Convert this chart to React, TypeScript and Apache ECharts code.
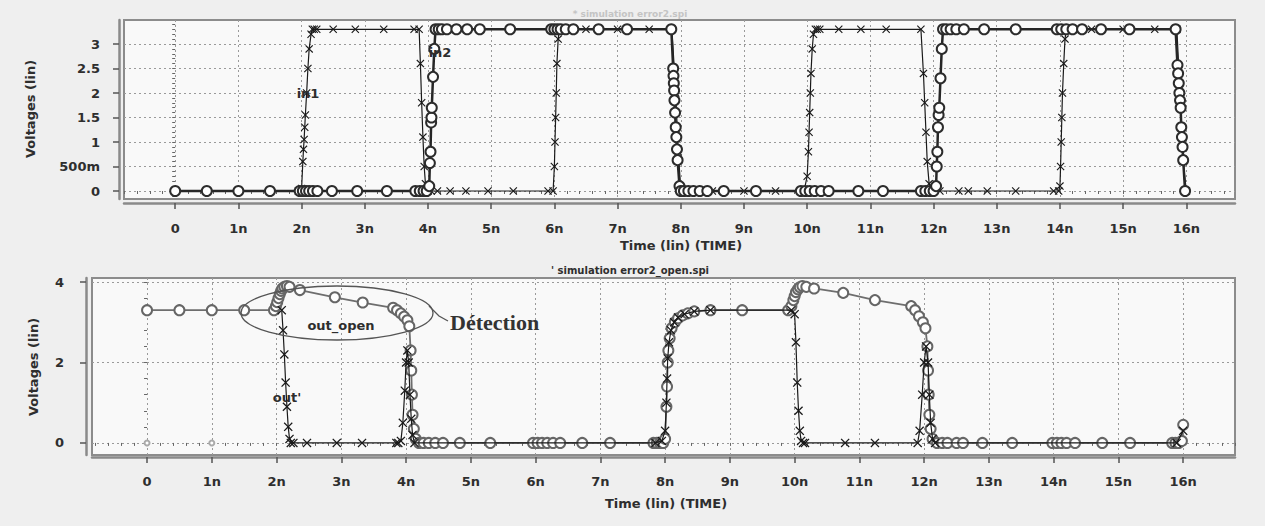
import React, { useEffect, useRef } from 'react';
import * as echarts from 'echarts';

// ---------- tick values ----------
const timeTicks = [0, 1, 2, 3, 4, 5, 6, 7, 8, 9, 10, 11, 12, 13, 14, 15, 16];
const topVoltTicks = [0, 0.5, 1, 1.5, 2, 2.5, 3];
const botVoltTicks = [0, 2, 4];

// ---------- top panel signals (time in ns, volts) ----------
const in1Top: [number, number][] = [
  [0, 0], [0.5, 0], [1, 0], [1.5, 0], [1.95, 0], [2.0, 0.05], [2.02, 0.6], [2.03, 0.85], [2.04, 1.05], [2.05, 1.3],
  [2.06, 1.55], [2.08, 2.0], [2.1, 2.5], [2.12, 2.9], [2.15, 3.2], [2.17, 3.3], [2.2, 3.3], [2.24, 3.3], [2.5, 3.3],
  [2.85, 3.3], [3.3, 3.3], [3.78, 3.3], [3.86, 3.3], [3.88, 2.6], [3.9, 1.8], [3.92, 1.1], [3.94, 0.5], [3.96, 0.15],
  [4.0, 0], [4.05, 0], [4.15, 0], [4.35, 0], [4.6, 0], [4.95, 0], [5.35, 0], [5.9, 0], [5.98, 0], [6.0, 0.5],
  [6.01, 1.0], [6.02, 1.5], [6.03, 2.0], [6.04, 2.6], [6.06, 3.1], [6.08, 3.3], [6.5, 3.3], [7.0, 3.3], [7.5, 3.3],
  [7.86, 3.3], [7.92, 2.0], [7.96, 0.8], [8.0, 0.05], [8.05, 0], [8.5, 0], [9.0, 0], [9.5, 0], [9.95, 0], [10.0, 0.3],
  [10.02, 0.8], [10.03, 1.2], [10.04, 1.6], [10.05, 2.0], [10.06, 2.4], [10.08, 2.9], [10.1, 3.2], [10.13, 3.3],
  [10.16, 3.3], [10.2, 3.3], [10.5, 3.3], [10.85, 3.3], [11.25, 3.3], [11.8, 3.3], [11.84, 2.4], [11.86, 1.8],
  [11.88, 1.2], [11.9, 0.6], [11.93, 0.15], [11.97, 0], [12.1, 0], [12.4, 0], [12.55, 0], [12.85, 0], [13.3, 0],
  [13.9, 0], [13.98, 0], [14.0, 0.1], [14.01, 0.5], [14.02, 1.0], [14.03, 1.5], [14.04, 2.0], [14.06, 2.6],
  [14.08, 3.1], [14.1, 3.3], [14.5, 3.3], [15.0, 3.3], [15.5, 3.3], [15.85, 3.3], [15.9, 2.0], [15.95, 0.6], [16.0, 0],
];

const in2Top: [number, number][] = [
  [0, 0], [0.5, 0], [1, 0], [1.5, 0], [1.97, 0], [2.02, 0], [2.07, 0], [2.12, 0], [2.18, 0], [2.25, 0], [2.48, 0],
  [2.88, 0], [3.35, 0], [3.8, 0], [3.87, 0], [3.93, 0], [3.98, 0], [4.02, 0.1], [4.03, 0.57], [4.04, 0.8], [4.05, 1.4],
  [4.055, 1.5], [4.06, 1.7], [4.08, 2.33], [4.1, 2.9], [4.12, 3.3], [4.17, 3.3], [4.22, 3.3], [4.3, 3.3], [4.45, 3.3],
  [4.62, 3.3], [4.82, 3.3], [5.3, 3.3], [5.95, 3.3], [6.0, 3.3], [6.05, 3.3], [6.1, 3.3], [6.18, 3.3], [6.3, 3.3],
  [6.7, 3.3], [7.15, 3.3], [7.85, 3.3], [7.88, 2.5], [7.885, 2.35], [7.89, 2.2], [7.895, 2.05], [7.9, 1.85],
  [7.91, 1.6], [7.92, 1.3], [7.93, 1.1], [7.94, 0.85], [7.95, 0.63], [7.98, 0.1], [8.0, 0], [8.05, 0], [8.12, 0],
  [8.2, 0], [8.3, 0], [8.42, 0], [8.68, 0], [9.19, 0], [9.9, 0], [9.97, 0], [10.04, 0], [10.12, 0], [10.22, 0],
  [10.34, 0], [10.81, 0], [11.2, 0], [11.8, 0], [11.87, 0], [11.94, 0], [12.0, 0], [12.04, 0.1], [12.05, 0.5],
  [12.06, 0.8], [12.07, 1.3], [12.08, 1.55], [12.09, 1.7], [12.11, 2.3], [12.13, 2.9], [12.15, 3.3], [12.2, 3.3],
  [12.27, 3.3], [12.36, 3.3], [12.48, 3.3], [12.8, 3.3], [13.3, 3.3], [13.95, 3.3], [14.02, 3.3], [14.1, 3.3],
  [14.2, 3.3], [14.35, 3.3], [14.65, 3.3], [15.1, 3.3], [15.83, 3.3], [15.86, 2.57], [15.87, 2.4], [15.88, 2.2],
  [15.89, 2.0], [15.9, 1.85], [15.91, 1.7], [15.92, 1.3], [15.93, 1.1], [15.94, 0.9], [15.95, 0.63], [15.98, 0],
];

// ---------- bottom panel signals ----------
const outOpenBot: [number, number][] = [
  [0, 3.3], [0.5, 3.3], [1, 3.3], [1.5, 3.3], [1.96, 3.3], [1.99, 3.4], [2.01, 3.5], [2.03, 3.6], [2.05, 3.7],
  [2.07, 3.78], [2.09, 3.84], [2.12, 3.88], [2.16, 3.9], [2.2, 3.88], [2.36, 3.8], [2.9, 3.62], [3.33, 3.49],
  [3.8, 3.36], [3.86, 3.3], [3.92, 3.22], [3.97, 3.14], [4.02, 3.05], [4.05, 2.9], [4.07, 2.3], [4.08, 1.8],
  [4.09, 1.2], [4.1, 0.7], [4.12, 0.35], [4.15, 0.1], [4.2, 0], [4.27, 0], [4.35, 0], [4.45, 0], [4.57, 0],
  [4.83, 0], [5.3, 0], [5.96, 0], [6.03, 0], [6.1, 0], [6.18, 0], [6.27, 0], [6.38, 0], [6.72, 0], [7.15, 0],
  [7.82, 0], [7.87, 0], [7.92, 0], [7.97, 0], [8.0, 0.1], [8.02, 0.9], [8.03, 1.4], [8.04, 2.0], [8.05, 2.3],
  [8.07, 2.6], [8.1, 2.85], [8.15, 3.0], [8.2, 3.1], [8.27, 3.17], [8.35, 3.22], [8.45, 3.27], [8.7, 3.3],
  [9.19, 3.3], [9.9, 3.3], [9.95, 3.4], [9.98, 3.55], [10.0, 3.65], [10.02, 3.75], [10.05, 3.82], [10.08, 3.87],
  [10.12, 3.9], [10.18, 3.88], [10.3, 3.84], [10.75, 3.73], [11.24, 3.55], [11.8, 3.4], [11.86, 3.3], [11.92, 3.15],
  [11.98, 3.0], [12.02, 2.85], [12.05, 2.4], [12.06, 1.8], [12.07, 1.2], [12.08, 0.7], [12.1, 0.35], [12.13, 0.1],
  [12.2, 0], [12.28, 0], [12.36, 0], [12.5, 0], [12.6, 0], [12.9, 0], [13.36, 0], [13.98, 0], [14.05, 0], [14.12, 0],
  [14.2, 0], [14.33, 0], [14.75, 0], [15.18, 0], [15.83, 0], [15.88, 0], [15.93, 0], [15.98, 0.05], [16.0, 0.45],
];

const outBot: [number, number][] = [
  [2.08, 3.3], [2.1, 2.8], [2.12, 2.2], [2.14, 1.5], [2.16, 0.9], [2.18, 0.4], [2.2, 0.1], [2.22, 0], [2.26, 0],
  [2.47, 0], [2.93, 0], [3.32, 0], [3.85, 0], [3.88, 0], [3.92, 0.05], [3.95, 0.5], [3.98, 1.3], [4.0, 2.0],
  [4.02, 2.3], [4.04, 2.0], [4.06, 1.2], [4.08, 0.6], [4.1, 0.2], [4.13, 0], [7.85, 0], [7.95, 0.05], [8.0, 0.3],
  [8.02, 1.0], [8.03, 1.6], [8.04, 2.1], [8.06, 2.5], [8.09, 2.8], [8.14, 3.0], [8.2, 3.12], [8.3, 3.2], [8.45, 3.27],
  [8.7, 3.3], [9.95, 3.3], [10.0, 3.2], [10.02, 2.5], [10.04, 1.5], [10.06, 0.8], [10.08, 0.3], [10.1, 0.05],
  [10.13, 0], [10.16, 0], [10.78, 0], [11.24, 0], [11.9, 0], [11.93, 0.3], [11.97, 1.2], [12.0, 2.0], [12.03, 2.4],
  [12.06, 2.0], [12.08, 1.2], [12.1, 0.5], [12.13, 0.1], [12.17, 0], [15.9, 0], [16.0, 0.3],
];

const faintBot: [number, number][] = [[0, 0], [1, 0]];

// ---------- helpers ----------
const timeLabel = (v: number) => (v === 0 ? '0' : `${v}n`);
const topVoltLabel = (v: number) => (v === 0 ? '0' : v === 0.5 ? '500m' : String(v));
function steps(a: number, b: number, s: number): number[] {
  const r: number[] = [];
  for (let i = Math.round(a / s); i * s <= b + 1e-9; i++) r.push(+(i * s).toFixed(4));
  return r;
}
const X_PATH = 'path://M0,1L1,0L5,4L9,0L10,1L6,5L10,9L9,10L5,6L1,10L0,9L4,5Z';
const FONT = 'DejaVu Sans';
const TXT = '#2e2e2e';

export default function App() {
  const ref = useRef<HTMLDivElement>(null);
  useEffect(() => {
    if (!ref.current) return;
    const chart = echarts.init(ref.current, undefined, { renderer: 'svg' });

    const labelStyle = { fontFamily: FONT, fontWeight: 'bold' as const, fontSize: 13, color: TXT };
    const gridLine = { show: true, lineStyle: { color: '#9a9a9a', type: [2, 3] as number[], width: 1 } };

    const xMain = (grid: number, min: number, max: number, offset: number, margin: number) => ({
      type: 'value', gridIndex: grid, min, max, position: 'bottom', offset,
      axisLine: { show: true, onZero: false, lineStyle: { color: '#8a8a8a', width: 2.5 } },
      axisTick: { show: true, customValues: timeTicks, length: 6, lineStyle: { color: '#555', width: 1.5 } },
      axisLabel: { show: true, customValues: timeTicks, formatter: timeLabel, margin, ...labelStyle },
      splitLine: gridLine,
    });
    const xMinor = (grid: number, min: number, max: number, offset: number) => ({
      type: 'value', gridIndex: grid, min, max, position: 'bottom', offset,
      axisLine: { show: false },
      axisTick: { show: true, customValues: steps(-0.8, 16.8, 0.2), length: 3, lineStyle: { color: '#666', width: 1 } },
      axisLabel: { show: false }, splitLine: { show: false },
    });
    const yMain = (grid: number, min: number, max: number, ticks: number[], fmt: (v: number) => string, offset: number, margin: number) => ({
      type: 'value', gridIndex: grid, min, max, position: 'left', offset,
      axisLine: { show: true, onZero: false, lineStyle: { color: '#8a8a8a', width: 2.5 } },
      axisTick: { show: true, customValues: ticks, length: 6, lineStyle: { color: '#555', width: 1.5 } },
      axisLabel: { show: true, customValues: ticks, formatter: fmt, margin, ...labelStyle },
      splitLine: gridLine,
    });
    const yMinor = (grid: number, min: number, max: number, ticks: number[], offset: number) => ({
      type: 'value', gridIndex: grid, min, max, position: 'left', offset,
      axisLine: { show: false },
      axisTick: { show: true, customValues: ticks, length: 3, lineStyle: { color: '#666', width: 1 } },
      axisLabel: { show: false }, splitLine: { show: false },
    });

    const text = (x: number, y: number, t: string, extra: any = {}) => ({
      type: 'text', x, y, z: 100,
      style: { text: t, fill: TXT, font: `bold 13px "${FONT}"`, textAlign: 'center', textVerticalAlign: 'middle', ...extra },
    });
    const vtext = (x: number, y: number, t: string) => ({
      type: 'text', x, y, rotation: Math.PI / 2, z: 100,
      style: { text: t, fill: TXT, font: `bold 13px "${FONT}"`, textAlign: 'center', textVerticalAlign: 'middle' },
    });

    const option: any = {
      animation: false,
      backgroundColor: '#efefef',
      grid: [
        { left: 124, top: 20, right: 30, height: 179, show: true, borderColor: '#8c8c8c', borderWidth: 2, backgroundColor: '#f9f9f9' },
        { left: 92, top: 278, right: 30, height: 177, show: true, borderColor: '#8c8c8c', borderWidth: 2, backgroundColor: '#f9f9f9' },
      ],
      xAxis: [
        xMain(0, -0.81, 16.77, 4, 19),
        xMinor(0, -0.81, 16.77, 4),
        xMain(1, -0.85, 16.8, 2, 18),
        xMinor(1, -0.85, 16.8, 2),
      ],
      yAxis: [
        yMain(0, -0.163, 3.49, topVoltTicks, topVoltLabel, 5, 19),
        yMinor(0, -0.163, 3.49, steps(-0.1, 3.4, 0.1), 5),
        yMain(1, -0.3, 4.1, botVoltTicks, (v: number) => String(v), 6, 22),
        yMinor(1, -0.3, 4.1, steps(0, 4.0, 0.4), 6),
      ],
      series: [
        {
          type: 'line', xAxisIndex: 0, yAxisIndex: 0, data: in1Top, showAllSymbol: true,
          symbol: X_PATH, symbolSize: 8, lineStyle: { color: '#1a1a1a', width: 1.2 }, itemStyle: { color: '#1a1a1a' }, z: 3,
        },
        {
          type: 'line', xAxisIndex: 0, yAxisIndex: 0, data: in2Top, showAllSymbol: true,
          symbol: 'emptyCircle', symbolSize: 10, lineStyle: { color: '#262626', width: 2.5 }, itemStyle: { color: '#2c2c2c', borderWidth: 2 }, z: 4,
        },
        {
          type: 'line', xAxisIndex: 2, yAxisIndex: 2, data: faintBot, showAllSymbol: true,
          symbol: 'emptyCircle', symbolSize: 5, lineStyle: { width: 0 }, itemStyle: { color: '#aaa' }, z: 2,
        },
        {
          type: 'line', xAxisIndex: 2, yAxisIndex: 2, data: outOpenBot, showAllSymbol: true,
          symbol: 'emptyCircle', symbolSize: 10, lineStyle: { color: '#6e6e6e', width: 1.8 }, itemStyle: { color: '#666', borderWidth: 1.6 }, z: 3,
        },
        {
          type: 'line', xAxisIndex: 2, yAxisIndex: 2, data: outBot, showAllSymbol: true,
          symbol: X_PATH, symbolSize: 9, lineStyle: { color: '#1a1a1a', width: 1.2 }, itemStyle: { color: '#1a1a1a' }, z: 4,
        },
      ],
      graphic: [
        vtext(30, 109, 'Voltages (lin)'),
        vtext(33, 367, 'Voltages (lin)'),
        text(681, 245, 'Time (lin) (TIME)'),
        text(666, 503, 'Time (lin) (TIME)'),
        text(308, 93, 'in1'),
        text(440, 52, 'in2'),
        text(287, 397, "out'"),
        text(341, 325, 'out_open'),
        text(630, 270, "' simulation error2_open.spi", { font: `bold 10px "${FONT}"` }),
        text(630, 14, '* simulation error2.spi', { font: `bold 9px "${FONT}"`, fill: '#c4c4c4' }),
        text(450, 322, 'Détection', { textAlign: 'left', font: 'bold 22px "Liberation Serif"', fill: '#333' }),
        {
          type: 'ellipse', z: 100, shape: { cx: 337, cy: 313, rx: 96, ry: 27 },
          style: { fill: 'none', stroke: '#555', lineWidth: 1.3 },
        },
        {
          type: 'polyline', z: 100, shape: { points: [[429, 306], [439, 316], [448, 321]] },
          style: { fill: 'none', stroke: '#555', lineWidth: 1.3 },
        },
      ],
    };

    chart.setOption(option);
    return () => chart.dispose();
  }, []);

  return (
    <div
      ref={ref}
      style={{ position: 'fixed', left: 0, top: 0, width: 1265, height: 526, background: '#efefef' }}
    />
  );
}
